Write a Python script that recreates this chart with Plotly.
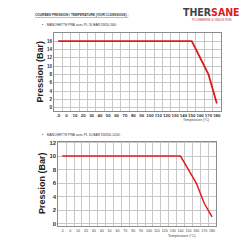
import plotly.graph_objects as go

categories = ["-5", "0", "10", "20", "30", "40", "50", "60", "70", "80", "90",
              "100", "110", "120", "130", "140", "150", "160", "170", "180"]
pressure_16 = [16, 16, 16, 16, 16, 16, 16, 16, 16, 16, 16,
               16, 16, 16, 16, 16, 16, 12, 8, 1]
pressure_10 = [10, 10, 10, 10, 10, 10, 10, 10, 10, 10, 10,
               10, 10, 10, 10, 10, 8, 6, 3, 1]
yticks_top = [0, 2, 4, 6, 8, 10, 12, 14, 16]
yticks_bottom = [0, 2, 4, 6, 8, 10, 12]

RED = "#e01b1b"
GRID = "#c8c8c8"
FRAME = "#8c8c8c"
FONT = "Liberation Sans"

fig = go.Figure()
fig.add_trace(go.Scatter(x=categories, y=pressure_16, mode="lines",
                         line=dict(color=RED, width=1.8), xaxis="x", yaxis="y",
                         showlegend=False))
fig.add_trace(go.Scatter(x=categories, y=pressure_10, mode="lines",
                         line=dict(color=RED, width=1.5), xaxis="x2", yaxis="y2",
                         showlegend=False))

def W(px):
    return px / 250.0

def H(py):
    return 1 - py / 250.0

xcommon = dict(type="category", tickson="boundaries", showgrid=True, gridcolor=GRID,
               gridwidth=0.6, showline=True, linecolor=FRAME, linewidth=1, mirror=True,
               ticks="", range=[-0.5, 19.5], categoryorder="array", tickangle=0,
               categoryarray=categories, zeroline=False, ticklabelstandoff=0)
ycommon = dict(showgrid=True, gridcolor=GRID, gridwidth=0.6, showline=True,
               linecolor=FRAME, linewidth=1, mirror=True, ticks="", zeroline=False)

fig.update_layout(
    width=250, height=250, margin=dict(l=0, r=0, t=0, b=0),
    paper_bgcolor="white", plot_bgcolor="white",
    font=dict(family=FONT, color="#222"),
    xaxis=dict(domain=[W(54), W(221)], anchor="y",
               tickfont=dict(size=4.4, weight="bold", color="#333"), **xcommon),
    yaxis=dict(domain=[H(110), H(31)], anchor="x", range=[-0.8, 18],
               tickvals=yticks_top, tickfont=dict(size=4.6, weight="bold", color="#333"),
               **ycommon),
    xaxis2=dict(domain=[W(58.3), W(216)], anchor="y2",
                tickfont=dict(size=3.6, color="#444"), **xcommon),
    yaxis2=dict(domain=[H(226), H(140.7)], anchor="x2", range=[-0.4, 12.15],
                tickvals=yticks_bottom, tickfont=dict(size=6, weight="bold", color="#333"),
                **ycommon),
)

ann = []
ann.append(dict(x=W(33), y=H(13.3), xref="paper", yref="paper", xanchor="left",
                yanchor="middle", showarrow=False,
                text="<u>COURBES PRESSION / TEMPERATURE (VOIR CI-DESSOUS) :</u>",
                font=dict(size=3.2, weight="bold", color="#333")))
ann.append(dict(x=W(40), y=H(23.5), xref="paper", yref="paper", xanchor="left",
                yanchor="middle", showarrow=False,
                text="•&nbsp;&nbsp;&nbsp;&nbsp;MANCHETTE PNB avec PL 16 BAR DN50-300 :",
                font=dict(size=3.3, color="#333")))
ann.append(dict(x=W(40), y=H(134), xref="paper", yref="paper", xanchor="left",
                yanchor="middle", showarrow=False,
                text="•&nbsp;&nbsp;&nbsp;&nbsp;MANCHETTE PNB avec PL 10 BAR DN350-1200 :",
                font=dict(size=3.3, color="#333")))
ann.append(dict(x=W(211.5), y=H(10), xref="paper", yref="paper", xanchor="center",
                yanchor="middle", showarrow=False,
                text="<span style='color:#444'>THER</span><span style='color:#e01b1b'>SANE</span>",
                font=dict(size=10.5, weight="bold", family="DejaVu Sans Condensed, " + FONT)))
ann.append(dict(x=W(212), y=H(17.8), xref="paper", yref="paper", xanchor="center",
                yanchor="middle", showarrow=False,
                text="PLOMBERIE &amp; INDUSTRIE",
                font=dict(size=3.2, color="#c04040")))
ann.append(dict(x=W(39.5), y=H(70.5), xref="paper", yref="paper", xanchor="center",
                yanchor="middle", showarrow=False, textangle=-90,
                text="Pression (Bar)", font=dict(size=9, weight="bold", color="#222")))
ann.append(dict(x=W(41.5), y=H(183), xref="paper", yref="paper", xanchor="center",
                yanchor="middle", showarrow=False, textangle=-90,
                text="Pression (Bar)", font=dict(size=9, weight="bold", color="#222")))
ann.append(dict(x=W(196), y=H(119.3), xref="paper", yref="paper", xanchor="center",
                yanchor="middle", showarrow=False,
                text="Température (°C)", font=dict(size=3.4, color="#444")))
ann.append(dict(x=W(182), y=H(235.7), xref="paper", yref="paper", xanchor="center",
                yanchor="middle", showarrow=False,
                text="Température (°C)", font=dict(size=3.6, color="#444")))
fig.update_layout(annotations=ann)

fig.write_html("out.html")
